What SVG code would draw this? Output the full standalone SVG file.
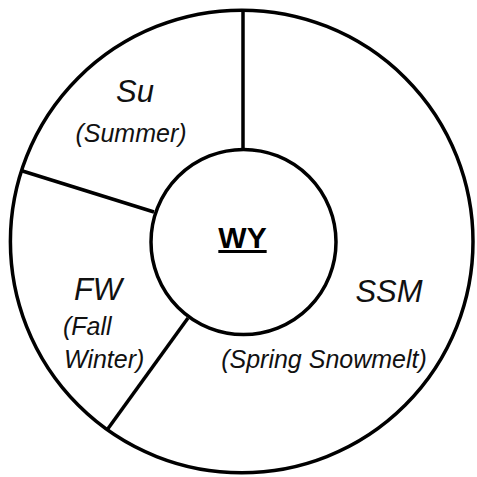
<svg xmlns="http://www.w3.org/2000/svg" width="477" height="477" viewBox="0 0 477 477">
<style>
.s{fill:none;stroke:#000;stroke-width:3.5}
.t{font-family:"Liberation Sans",Arial,sans-serif;font-style:italic;fill:#111}
.m{font-size:31px}
.sub{font-size:25px}
</style>
<rect width="477" height="477" fill="#fff"/>
<g id="outer"><circle class="s" cx="241.7" cy="241.5" r="231.3"/></g>
<g id="connectors">
<line class="s" x1="243" y1="10" x2="243" y2="150"/>
<line class="s" x1="22.5" y1="171" x2="154" y2="212"/>
<line class="s" x1="107" y1="430" x2="188" y2="318"/>
</g>
<g id="Su">
<text class="t m" x="135" y="102" text-anchor="middle">Su</text>
<text class="t sub" x="131" y="142" text-anchor="middle">(Summer)</text>
</g>
<g id="FW">
<text class="t m" x="98" y="300" text-anchor="middle">FW</text>
<text class="t sub" x="63" y="335">(Fall</text>
<text class="t sub" x="64" y="368">Winter)</text>
</g>
<g id="SSM">
<text class="t m" x="389" y="302" text-anchor="middle">SSM</text>
<text class="t sub" x="324" y="368" text-anchor="middle">(Spring Snowmelt)</text>
</g>
<g id="WY">
<circle cx="243.5" cy="242" r="92.5" fill="#fff" stroke="#000" stroke-width="3.5"/>
<text x="242.5" y="248" text-anchor="middle" font-family="Liberation Sans,Arial,sans-serif" font-weight="bold" font-size="30" text-decoration="underline" fill="#000">WY</text>
</g>
</svg>
